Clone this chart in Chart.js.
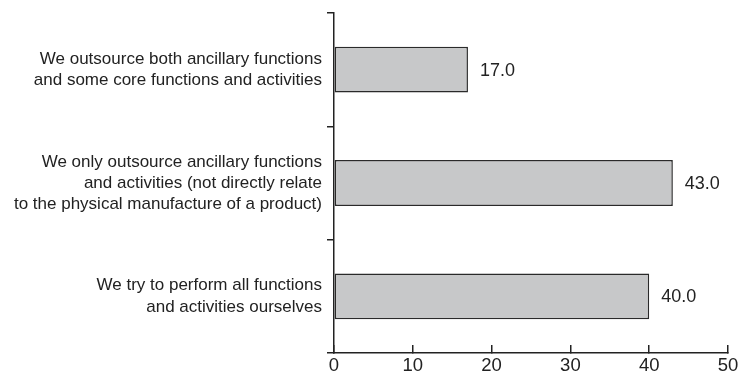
<!DOCTYPE html>
<html>
<head>
<meta charset="utf-8">
<script src="https://cdn.jsdelivr.net/npm/chart.js@4"></script>
<style>
  html, body { margin: 0; padding: 0; background: #fff; }
  canvas { display: block; }
</style>
</head>
<body>
<canvas id="c" width="739" height="374"></canvas>
<script>
const categories = [
  ["We outsource both ancillary functions", "and some core functions and activities"],
  ["We only outsource ancillary functions", "and activities (not directly relate", "to the physical manufacture of a product)"],
  ["We try to perform all functions", "and activities ourselves"]
];
const values = [17.0, 43.0, 40.0];
const xTicks = [0, 10, 20, 30, 40, 50];

const ink = '#222222';

const valueLabels = {
  id: 'valueLabels',
  afterDatasetsDraw(chart) {
    const ctx = chart.ctx;
    const meta = chart.getDatasetMeta(0);
    ctx.save();
    ctx.font = '18px "Liberation Sans", Arial, sans-serif';
    ctx.fillStyle = ink;
    ctx.textAlign = 'left';
    ctx.textBaseline = 'middle';
    meta.data.forEach((bar, i) => {
      ctx.fillText(values[i].toFixed(1), bar.x + 12, bar.y + 1);
    });
    ctx.restore();
  }
};

new Chart(document.getElementById('c'), {
  type: 'bar',
  data: {
    labels: categories,
    datasets: [{
      data: values,
      backgroundColor: '#c7c8c9',
      borderColor: '#2a2a2a',
      borderWidth: 1.5,
      borderSkipped: false,
      barPercentage: 0.405,
      categoryPercentage: 1.0
    }]
  },
  options: {
    indexAxis: 'y',
    responsive: false,
    animation: false,
    layout: { padding: { top: 13, right: 11, bottom: 0, left: 0 } },
    plugins: { legend: { display: false }, tooltip: { enabled: false } },
    scales: {
      x: {
        type: 'linear',
        min: xTicks[0],
        max: xTicks[xTicks.length - 1],
        afterBuildTicks(scale) { scale.ticks = xTicks.map(v => ({ value: v })); },
        afterFit(scale) { scale.height = 21; scale.paddingLeft = 0; scale.paddingRight = 0; },
        grid: { drawOnChartArea: false, drawTicks: true, tickLength: -8, color: ink, lineWidth: 1.5 },
        border: { display: true, color: ink, width: 1.5 },
        ticks: {
          color: ink,
          padding: 10,
          maxRotation: 0,
          font: { family: '"Liberation Sans", Arial, sans-serif', size: 18.5 }
        }
      },
      y: {
        type: 'category',
        offset: true,
        afterFit(scale) { scale.width = 334; scale.paddingTop = 0; scale.paddingBottom = 0; },
        grid: { offset: true, drawOnChartArea: false, drawTicks: true, tickLength: 7, color: ink, lineWidth: 1.5 },
        border: { display: true, color: ink, width: 1.5 },
        ticks: {
          color: ink,
          padding: 5,
          font: { family: '"Liberation Sans", Arial, sans-serif', size: 17, lineHeight: 1.24 }
        }
      }
    }
  },
  plugins: [valueLabels]
});
</script>
</body>
</html>
